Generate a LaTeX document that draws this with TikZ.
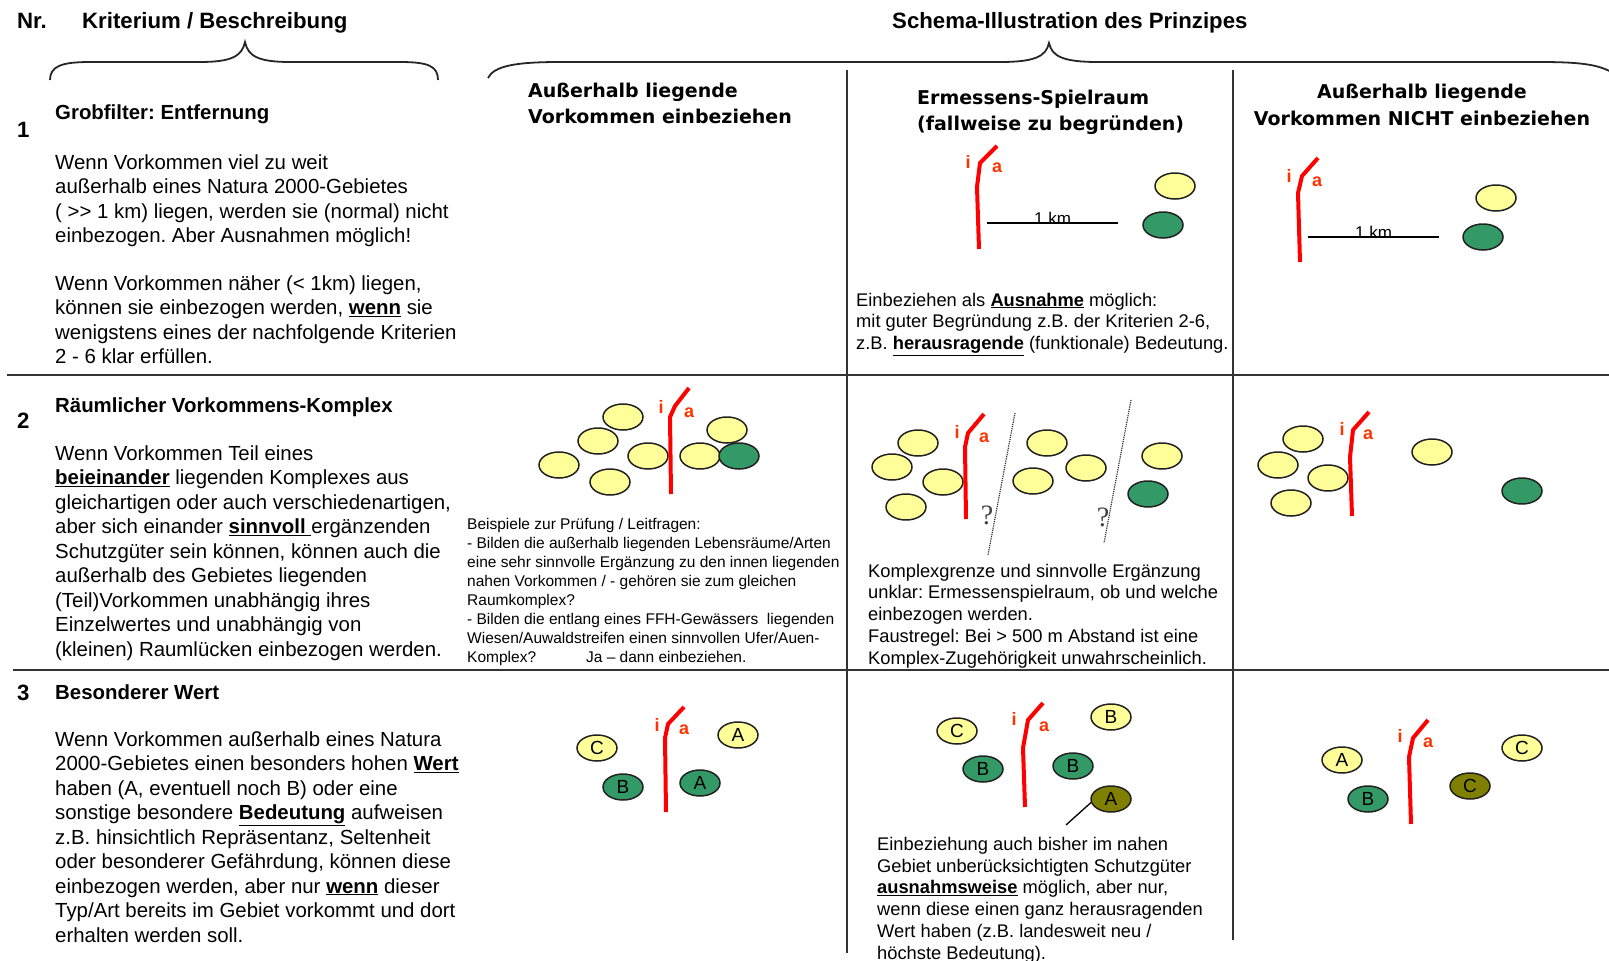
\documentclass[tikz,border=0pt]{standalone}
\usepackage{fontspec}
\setmainfont{Liberation Sans}
\newfontfamily\kopffont{DejaVu Sans}
\newfontfamily\fragefont{Liberation Serif}
\usetikzlibrary{shapes.geometric}
\definecolor{hellgelb}{HTML}{FFFF99}
\definecolor{dunkelgruen}{HTML}{339966}
\definecolor{olivgruen}{HTML}{808000}
\definecolor{iarot}{HTML}{FF3300}
\definecolor{umriss}{HTML}{222222}
\frenchspacing
\begin{document}
\begin{tikzpicture}[x=1pt,y=-1pt,
  txt/.style={anchor=base west,align=left,inner sep=0pt,font=\fontsize{20.4}{24.5}\selectfont},
  klein/.style={anchor=base west,align=left,inner sep=0pt,font=\fontsize{18.3}{21.7}\selectfont},
  mini/.style={anchor=base west,align=left,inner sep=0pt,font=\fontsize{15.5}{19}\selectfont},
  titel/.style={anchor=base west,inner sep=0pt,font=\bfseries\fontsize{22.2}{26}\selectfont},
  kopf/.style={anchor=base west,align=left,inner sep=0pt,font=\kopffont\bfseries\fontsize{19}{26.5}\selectfont},
  fett/.style={anchor=base west,inner sep=0pt,font=\bfseries\fontsize{20.4}{24.5}\selectfont},
  tabelle/.style={line width=2pt,draw=black!80},
  klammer/.style={line width=1.8pt,draw=black!85},
  grenze/.style={draw=red,line width=4pt,line join=round},
  ia/.style={anchor=base,inner sep=0pt,text=iarot,font=\bfseries\fontsize{18}{18}\selectfont},
  vork/.style={ellipse,draw=umriss,line width=1.5pt,minimum width=40pt,minimum height=26pt,inner sep=0pt,font=\fontsize{19}{19}\selectfont},
  vgelb/.style={vork,fill=hellgelb},
  vgruen/.style={vork,fill=dunkelgruen},
  voliv/.style={vork,fill=olivgruen},
  skala/.style={line width=1.3pt},
  km/.style={anchor=base,inner sep=0pt,yshift=-1pt,font=\fontsize{17}{17}\selectfont},
  frage/.style={inner sep=0pt,text=black!75,font=\fragefont\fontsize{28}{28}\selectfont},
  grenzlinie/.style={line width=1.2pt,densely dotted,draw=black!80}]
\useasboundingbox (0,0) rectangle (1609,961);

% Kopfzeile
\node[titel] (nr) at (17,28) {Nr.};
\node[titel] (krit) at (82,28) {Kriterium / Beschreibung};
\node[titel] (schema) at (892,28) {Schema-Illustration des Prinzipes};
\draw[klammer] (50,80) .. controls (50,66) and (62,62) .. (90,62) -- (200,62)
  .. controls (232,62) and (242,56) .. (245,42) .. controls (248,56) and (258,62) .. (290,62)
  -- (400,62) .. controls (428,62) and (438,66) .. (438,80);
\draw[klammer] (488,78) .. controls (494,66) and (515,62) .. (560,62) -- (1000,62)
  .. controls (1036,62) and (1046,56) .. (1049,43) .. controls (1052,56) and (1062,62) .. (1098,62)
  -- (1540,62) .. controls (1590,62) and (1605,66) .. (1620,78);

% Tabelle
\draw[tabelle] (7,375) -- (1609,375);
\draw[tabelle] (13,670) -- (1609,670);
\draw[tabelle] (847,70) -- (847,953);
\draw[tabelle] (1233,70) -- (1233,940);

% Spaltenkoepfe (Anker: Grundlinie der letzten Zeile)
\node[kopf] (kopfa) at (528,123.5) {Außerhalb liegende\\Vorkommen einbeziehen};
\node[kopf] (kopfb) at (917,130.5) {Ermessens-Spielraum\\(fallweise zu begründen)};
\node[kopf,anchor=base,align=center] (kopfc) at (1422,125) {Außerhalb liegende\\Vorkommen NICHT einbeziehen};

% Zeile 1
\node[titel] (n1) at (17,137) {1};
\node[fett] (k1) at (55,119) {Grobfilter: Entfernung};
\node[txt] (t1a) at (55,242.5) {Wenn Vorkommen viel zu weit\\
  außerhalb eines Natura 2000-Gebietes\\
  ( >\kern0pt> 1 km) liegen, werden sie (normal) nicht\\
  einbezogen. Aber Ausnahmen möglich!};
\node[txt] (t1b) at (55,363.5) {Wenn Vorkommen näher (< 1km) liegen,\\
  können sie einbezogen werden, \underline{\textbf{wenn}} sie\\
  wenigstens eines der nachfolgende Kriterien\\
  2 - 6 klar erfüllen.};

\draw[grenze] (997,146) -- (980,163) -- (977,187) -- (979,249);
\node[ia] (i1) at (968,168) {i};
\node[ia] (a1) at (997,172) {a};
\coordinate (s1a) at (987,223);
\coordinate (s1b) at (1118,223);
\draw[skala] (s1a) -- node[km] (km1) {1 km} (s1b);
\node[vgelb] (y11) at (1175,186) {};
\node[vgruen] (g11) at (1163,225) {};
\node[klein] (t1c) at (856,349.5) {Einbeziehen als \underline{\textbf{Ausnahme}} möglich:\\
  mit guter Begründung z.B. der Kriterien 2-6,\\
  z.B. \underline{\textbf{herausragende}} (funktionale) Bedeutung.};

\draw[grenze] (1318,158) -- (1302,176) -- (1298,193) -- (1300,262);
\node[ia] (i2) at (1289,182) {i};
\node[ia] (a2) at (1317,186) {a};
\coordinate (s2a) at (1308,237);
\coordinate (s2b) at (1439,237);
\draw[skala] (s2a) -- node[km] (km2) {1 km} (s2b);
\node[vgelb] (y12) at (1496,198) {};
\node[vgruen] (g12) at (1483,237) {};

% Zeile 2
\node[titel] (n2) at (17,428) {2};
\node[fett] (k2) at (55,412) {Räumlicher Vorkommens-Komplex};
\node[txt] (t2a) at (55,656) {Wenn Vorkommen Teil eines\\
  \underline{\textbf{beieinander}} liegenden Komplexes aus\\
  gleichartigen oder auch verschiedenartigen,\\
  aber sich einander \underline{\textbf{sinnvoll }}ergänzenden\\
  Schutzgüter sein können, können auch die\\
  außerhalb des Gebietes liegenden\\
  (Teil)Vorkommen unabhängig ihres\\
  Einzelwertes und unabhängig von\\
  (kleinen) Raumlücken einbezogen werden.};

\node[vgelb] (y21) at (623,417) {};
\node[vgelb] (y22) at (598,441) {};
\node[vgelb] (y23) at (559,465) {};
\node[vgelb] (y24) at (648,456) {};
\node[vgelb] (y25) at (610,482) {};
\node[vgelb] (y26) at (700,456) {};
\node[vgelb] (y27) at (727,430) {};
\node[vgruen] (g21) at (739,456) {};
\draw[grenze] (689,388) -- (675,406) -- (670,417) -- (671,494);
\node[ia] (i3) at (661,413) {i};
\node[ia] (a3) at (689,417) {a};
\node[mini] (t2b) at (467,662) {Beispiele zur Prüfung / Leitfragen:\\
  - Bilden die außerhalb liegenden Lebensräume/Arten\\
  eine sehr sinnvolle Ergänzung zu den innen liegenden\\
  nahen Vorkommen / - gehören sie zum gleichen\\
  Raumkomplex?\\
  - Bilden die entlang eines FFH-Gewässers\ \ liegenden\\
  Wiesen/Auwaldstreifen einen sinnvollen Ufer/Auen-\\
  Komplex?\hspace{50pt}Ja – dann einbeziehen.};

\node[vgelb] (y31) at (918,443) {};
\node[vgelb] (y32) at (892,467) {};
\node[vgelb] (y33) at (943,482) {};
\node[vgelb] (y34) at (906,507) {};
\node[vgelb] (y35) at (1047,443) {};
\node[vgelb] (y36) at (1086,468) {};
\node[vgelb] (y37) at (1033,481) {};
\node[vgelb] (y38) at (1162,456) {};
\node[vgruen] (g31) at (1148,494) {};
\draw[grenze] (984,414) -- (968,433) -- (965,447) -- (966,519);
\node[ia] (i4) at (957,438) {i};
\node[ia] (a4) at (984,442) {a};
\coordinate (d1a) at (1015,413);
\coordinate (d1b) at (988,555);
\coordinate (d2a) at (1131,400);
\coordinate (d2b) at (1104,543);
\draw[grenzlinie] (d1a) -- (d1b);
\draw[grenzlinie] (d2a) -- (d2b);
\node[frage] (f1) at (987,515) {?};
\node[frage] (f2) at (1103,517) {?};
\node[klein] (t2c) at (868,664) {Komplexgrenze und sinnvolle Ergänzung\\
  unklar: Ermessenspielraum, ob und welche\\
  einbezogen werden.\\
  Faustregel: Bei > 500 m Abstand ist eine\\
  Komplex-Zugehörigkeit unwahrscheinlich.};

\node[vgelb] (y41) at (1303,439) {};
\node[vgelb] (y42) at (1278,465) {};
\node[vgelb] (y43) at (1328,478) {};
\node[vgelb] (y44) at (1291,503) {};
\node[vgelb] (y45) at (1432,452) {};
\node[vgruen] (g41) at (1522,491) {};
\draw[grenze] (1369,412) -- (1353,430) -- (1350,457) -- (1352,516);
\node[ia] (i5) at (1342,435) {i};
\node[ia] (a5) at (1368,439) {a};

% Zeile 3
\node[titel] (n3) at (17,700) {3};
\node[fett] (k3) at (55,699) {Besonderer Wert};
\node[txt] (t3a) at (55,942) {Wenn Vorkommen außerhalb eines Natura\\
  2000-Gebietes einen besonders hohen \underline{\textbf{Wert}}\\
  haben (A, eventuell noch B) oder eine\\
  sonstige besondere \underline{\textbf{Bedeutung}} aufweisen\\
  z.B. hinsichtlich Repräsentanz, Seltenheit\\
  oder besonderer Gefährdung, können diese\\
  einbezogen werden, aber nur \underline{\textbf{wenn}} dieser\\
  Typ/Art bereits im Gebiet vorkommt und dort\\
  erhalten werden soll.};

\node[vgelb] (c51) at (597,748) {C};
\node[vgruen] (b51) at (623,787) {B};
\node[vgruen] (a51) at (700,783) {A};
\node[vgelb] (a52) at (738,735) {A};
\draw[grenze] (684,707) -- (668,724) -- (665,738) -- (666,812);
\node[ia] (i6) at (657,731) {i};
\node[ia] (a6) at (684,734) {a};

\node[vgelb] (c61) at (957,731) {C};
\node[vgruen] (b61) at (983,769) {B};
\node[vgruen] (b62) at (1073,766) {B};
\node[vgelb] (b63) at (1111,717) {B};
\node[voliv] (a61) at (1111,799) {A};
\draw[grenze] (1043,703) -- (1028,720) -- (1023,748) -- (1025,807);
\node[ia] (i7) at (1014,725) {i};
\node[ia] (a7) at (1044,731) {a};
\coordinate (zeiger) at (1066,825);
\draw[line width=1.3pt] (a61.190) -- (zeiger);
\node[klein] (t3c) at (877,959) {Einbeziehung auch bisher im nahen\\
  Gebiet unberücksichtigten Schutzgüter\\
  \underline{\textbf{ausnahmsweise}} möglich, aber nur,\\
  wenn diese einen ganz herausragenden\\
  Wert haben (z.B. landesweit neu /\\
  höchste Bedeutung).};

\node[vgelb] (a71) at (1342,760) {A};
\node[vgruen] (b71) at (1368,799) {B};
\node[voliv] (c71) at (1470,786) {C};
\node[vgelb] (c72) at (1522,748) {C};
\draw[grenze] (1428,720) -- (1413,738) -- (1409,757) -- (1411,824);
\node[ia] (i8) at (1400,742) {i};
\node[ia] (a8) at (1428,747) {a};
\end{tikzpicture}
\end{document}
